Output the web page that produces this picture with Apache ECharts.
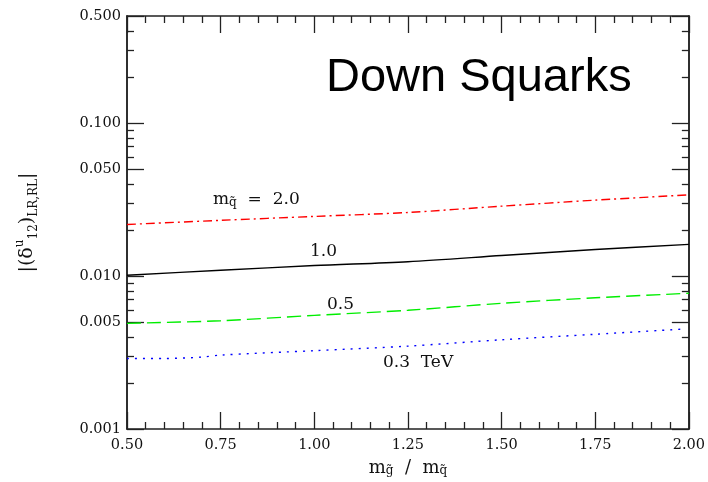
<!DOCTYPE html>
<html>
<head>
<meta charset="utf-8">
<script src="https://cdn.jsdelivr.net/npm/echarts@6/dist/echarts.min.js"></script>
<style>
  html, body { margin: 0; padding: 0; background: #fff; }
  #main { width: 708px; height: 482px; }
</style>
</head>
<body>
<div id="main"></div>
<script>
  // values
  var xs = [0.5, 0.75, 1.0, 1.25, 1.5, 1.75, 2.0];
  var msq20 = [0.0217, 0.0231, 0.0245, 0.0260, 0.0286, 0.0313, 0.0339];
  var msq10 = [0.0101, 0.0109, 0.0117, 0.0124, 0.0136, 0.0149, 0.0161];
  var msq05 = [0.0049, 0.0051, 0.00553, 0.00597, 0.00663, 0.0072, 0.00771];
  var xsBlue = [0.5, 0.6, 0.7, 0.75, 1.0, 1.25, 1.5, 1.75, 1.98];
  var msq03 = [0.00289, 0.00289, 0.00295, 0.00304, 0.00325, 0.00348, 0.00383, 0.00416, 0.00449];

  var yMajor = [0.001, 0.005, 0.01, 0.05, 0.1, 0.5];
  var yMinor = [0.002, 0.003, 0.004, 0.006, 0.007, 0.008, 0.009,
                0.02, 0.03, 0.04, 0.06, 0.07, 0.08, 0.09, 0.2, 0.3, 0.4];

  var serif = 'DejaVu Serif';
  var lg = function (v) { return Math.log10(v); };
  var pts = function (x, y) { return x.map(function (v, i) { return [v, lg(y[i])]; }); };

  var chart = echarts.init(document.getElementById('main'));

  // one x axis per side, major + minor ticks inside
  var xAxisBase = function (pos, labels) {
    return {
      type: 'value', position: pos, min: 0.5, max: 2.0, interval: 0.25,
      axisLine: { show: true, onZero: false, lineStyle: { color: '#222', width: 1.5 } },
      axisTick: { inside: true, length: 17, lineStyle: { color: '#222', width: 1.3 } },
      minorTick: { show: true, splitNumber: 5, length: 7, lineStyle: { color: '#222', width: 1.3 } },
      splitLine: { show: false },
      axisLabel: {
        show: labels, margin: 9, color: '#111', fontFamily: serif, fontSize: 14.5,
        formatter: function (v) { return v.toFixed(2); }
      }
    };
  };

  // log scale done on log10 values, ticks placed at the real decades
  var yAxisBase = function (pos, ticks, len, labels) {
    return {
      type: 'value', position: pos, min: -3, max: lg(0.5),
      axisLine: { show: true, onZero: false, lineStyle: { color: '#222', width: 1.5 } },
      axisTick: { inside: true, length: len, customValues: ticks.map(lg), lineStyle: { color: '#222', width: 1.3 } },
      splitLine: { show: false },
      axisLabel: {
        show: labels, margin: 6, color: '#111', fontFamily: serif, fontSize: 14.5,
        customValues: ticks.map(lg),
        formatter: function (v) { return Math.pow(10, v).toFixed(3); }
      }
    };
  };

  var xMain = xAxisBase('bottom', true);
  xMain.name = 'm{s|g\u0303}  /  m{s|q\u0303}';
  xMain.nameLocation = 'middle';
  xMain.nameGap = 30;
  xMain.nameTextStyle = {
    fontFamily: serif, fontSize: 18, color: '#111',
    rich: { s: { fontFamily: serif, fontSize: 12, color: '#111', verticalAlign: 'bottom', lineHeight: 12 } }
  };

  var yMain = yAxisBase('left', yMajor, 17, true);
  yMain.name = '|(\u03b4{sup|u}{sub|12}){sub|LR,RL}|';
  yMain.nameLocation = 'middle';
  yMain.nameRotate = 90;
  yMain.nameGap = 87;
  yMain.nameTextStyle = {
    fontFamily: serif, fontSize: 19, color: '#111', lineHeight: 26,
    rich: {
      sup: { fontFamily: serif, fontSize: 12, color: '#111', verticalAlign: 'top', lineHeight: 12 },
      sub: { fontFamily: serif, fontSize: 12, color: '#111', verticalAlign: 'bottom', lineHeight: 12 }
    }
  };

  var line = function (name, data, color, type) {
    return {
      name: name, type: 'line', data: data, xAxisIndex: 0, yAxisIndex: 0,
      showSymbol: false, smooth: 0.3, silent: true,
      lineStyle: { color: color, width: 1.4, type: type }
    };
  };

  var txt = function (text, x, y, rich) {
    return {
      type: 'text', x: x, y: y, silent: true,
      style: {
        text: text, fill: '#111', font: '17px "' + serif + '"',
        verticalAlign: 'middle', rich: rich
      }
    };
  };
  var subRich = { s: { fontFamily: serif, fontSize: 12, fill: '#111', verticalAlign: 'bottom', lineHeight: 12 } };

  chart.setOption({
    animation: false,
    backgroundColor: '#fff',
    grid: { left: 127, right: 18, top: 16, bottom: 52 },
    title: {
      text: 'Down Squarks', left: 321, top: 50,
      textStyle: { fontFamily: 'Liberation Sans', fontSize: 47, fontWeight: 'normal', color: '#000' }
    },
    xAxis: [xMain, xAxisBase('top', false)],
    yAxis: [
      yMain,
      yAxisBase('left', yMinor, 7, false),
      yAxisBase('right', yMajor, 17, false),
      yAxisBase('right', yMinor, 7, false)
    ],
    series: [
      line('2.0', pts(xs, msq20), '#ff0000', [9, 4, 2, 4]),
      line('1.0', pts(xs, msq10), '#000000', 'solid'),
      line('0.5', pts(xs, msq05), '#00ee00', [14, 6]),
      line('0.3', pts(xsBlue, msq03), '#0000ff', [2, 6])
    ],
    graphic: [
      txt('m{s|q\u0303}  =  2.0', 213, 200, subRich),
      txt('1.0', 310, 252),
      txt('0.5', 327, 305),
      txt('0.3  TeV', 383, 363)
    ]
  });
</script>
</body>
</html>
